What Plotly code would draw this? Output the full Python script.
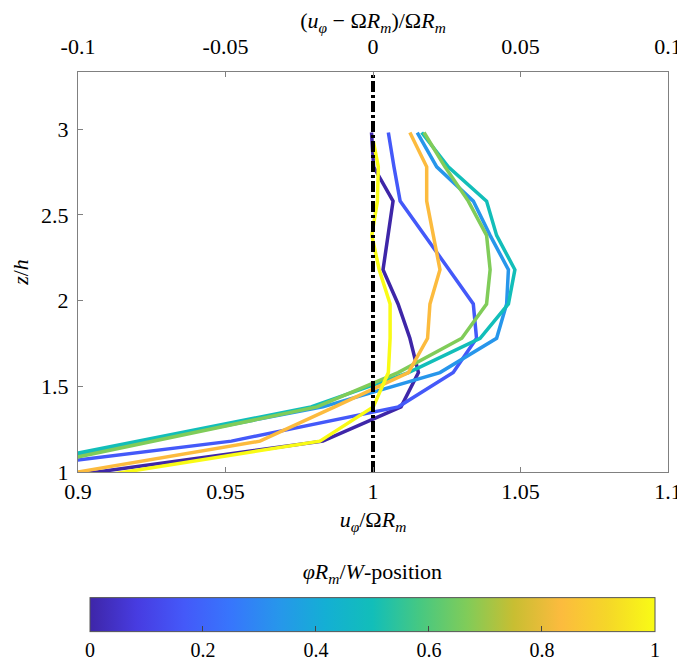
import plotly.graph_objects as go
from plotly.colors import sample_colorscale

# ---------------- data ----------------
z_levels = [0.98, 1.18, 1.38, 1.58, 1.78, 1.98, 2.18, 2.38, 2.58, 2.78, 2.98]
z_yellow = [0.98, 1.18, 1.38, 1.58, 1.78, 1.98, 2.18, 2.38, 2.58, 2.78, 2.93]

positions = [0, 1/6, 2/6, 3/6, 4/6, 5/6, 1]

u_pos0 = [0.898, 0.983, 1.0095, 1.0154, 1.0125, 1.0085, 1.0034, 1.0050, 1.0068, 1.0002, 0.9995]
u_pos1 = [0.857, 0.952, 1.0086, 1.0272, 1.0351, 1.0340, 1.0258, 1.0174, 1.0092, 1.0071, 1.0052]
u_pos2 = [0.862, 0.922, 0.9830, 1.0227, 1.0419, 1.0453, 1.0459, 1.0397, 1.0340, 1.0216, 1.0150]
u_pos3 = [0.862, 0.920, 0.9790, 1.0120, 1.0363, 1.0459, 1.0481, 1.0419, 1.0385, 1.0255, 1.0165]
u_pos4 = [0.870, 0.925, 0.9810, 1.0085, 1.0301, 1.0385, 1.0397, 1.0385, 1.0323, 1.0244, 1.0173]
u_pos5 = [0.893, 0.9617, 0.9870, 1.0120, 1.0185, 1.0193, 1.0227, 1.0204, 1.0182, 1.0182, 1.0125]
u_pos6 = [0.9087, 0.982, 1.0001, 1.0052, 1.0058, 1.0058, 1.0021, 0.9996, 1.0015, 1.0018, 1.0001]

series = [u_pos0, u_pos1, u_pos2, u_pos3, u_pos4, u_pos5, u_pos6]
series_z = [z_levels] * 6 + [z_yellow]

bottom_ticks = [0.9, 0.95, 1.0, 1.05, 1.1]
bottom_ticktext = ["0.9", "0.95", "1", "1.05", "1.1"]
top_ticks = [-0.1, -0.05, 0, 0.05, 0.1]
top_ticktext = ["-0.1", "-0.05", "0", "0.05", "0.1"]
y_ticks = [1, 1.5, 2, 2.5, 3]
y_ticktext = ["1", "1.5", "2", "2.5", "3"]
cb_ticks = [0, 0.2, 0.4, 0.6, 0.8, 1]
cb_ticktext = ["0", "0.2", "0.4", "0.6", "0.8", "1"]

# parula-like colorscale
parula = [
    [0.0, "rgb(62,38,168)"],
    [0.0833, "rgb(71,60,225)"],
    [1/6, "rgb(68,89,249)"],
    [0.25, "rgb(55,118,252)"],
    [2/6, "rgb(39,150,235)"],
    [0.4167, "rgb(20,175,212)"],
    [0.5, "rgb(18,190,185)"],
    [0.5833, "rgb(70,200,130)"],
    [4/6, "rgb(128,204,89)"],
    [0.75, "rgb(200,190,50)"],
    [5/6, "rgb(252,187,62)"],
    [0.9167, "rgb(245,215,40)"],
    [1.0, "rgb(249,251,21)"],
]

FONT = "Liberation Serif"
FS = 22

fig = go.Figure()

line_colors = sample_colorscale(parula, positions)
for xs, zs, c in zip(series, series_z, line_colors):
    fig.add_trace(go.Scatter(x=xs, y=zs, mode="lines",
                             line=dict(color=c, width=3.5), showlegend=False,
                             hoverinfo="skip"))

# reference line at zero deviation (top axis)
fig.add_trace(go.Scatter(x=[0, 0], y=[1, 3.333], xaxis="x2", mode="lines",
                         line=dict(color="black", width=4, dash="11px,3px,3px,3px"),
                         showlegend=False, hoverinfo="skip"))

# colorbar carrier
fig.add_trace(go.Scatter(
    x=[None, None], y=[None, None], mode="markers", showlegend=False,
    marker=dict(color=[0, 1], cmin=0, cmax=1, colorscale=parula, showscale=True,
                colorbar=dict(
                    orientation="h", x=0.499, xanchor="center",
                    y=-0.2455, yanchor="top", yref="paper",
                    len=565, lenmode="pixels", thickness=34, thicknessmode="pixels",
                    xpad=0, ypad=0,
                    outlinewidth=1, outlinecolor="#555555",
                    ticks="inside", ticklen=6, tickcolor="#444444", tickwidth=1,
                    tickvals=cb_ticks, ticktext=cb_ticktext,
                    tickfont=dict(family=FONT, size=20, color="black"),
                    title=dict(text="<i>φR</i><sub><i>m</i></sub>/<i>W</i>-position",
                               side="top", font=dict(family=FONT, size=FS, color="black")),
                ))))

axis_common = dict(showgrid=False, zeroline=False, showline=True, linecolor="#808080",
                   linewidth=1, ticks="inside", ticklen=5, tickcolor="#808080",
                   tickfont=dict(family=FONT, size=FS, color="black"))

fig.update_layout(
    width=677, height=656,
    margin=dict(l=70, r=17, t=64, b=192, autoexpand=False),
    paper_bgcolor="white", plot_bgcolor="white",
    xaxis=dict(range=[0.9, 1.1], tickvals=bottom_ticks, ticktext=bottom_ticktext,
               mirror=True, automargin=False,
               title=dict(text="<i>u</i><sub><i>φ</i></sub>/Ω<i>R</i><sub><i>m</i></sub>",
                          font=dict(family=FONT, size=FS, color="black"), standoff=8),
               **axis_common),
    xaxis2=dict(range=[-0.1, 0.1], overlaying="x", side="top", tickvals=top_ticks,
                ticktext=top_ticktext, automargin=False, ticklabelstandoff=8,
                title=dict(text="(<i>u</i><sub><i>φ</i></sub> − Ω<i>R</i><sub><i>m</i></sub>)/Ω<i>R</i><sub><i>m</i></sub>",
                           font=dict(family=FONT, size=FS, color="black"), standoff=19),
                **axis_common),
    yaxis=dict(range=[1, 3.333], tickvals=y_ticks, ticktext=y_ticktext, mirror=True,
               automargin=False, ticklabelstandoff=4,
               title=dict(text="<i>z</i>/<i>h</i>", font=dict(family=FONT, size=FS, color="black"),
                          standoff=10),
               **axis_common),
)

fig.write_html("out.html")
